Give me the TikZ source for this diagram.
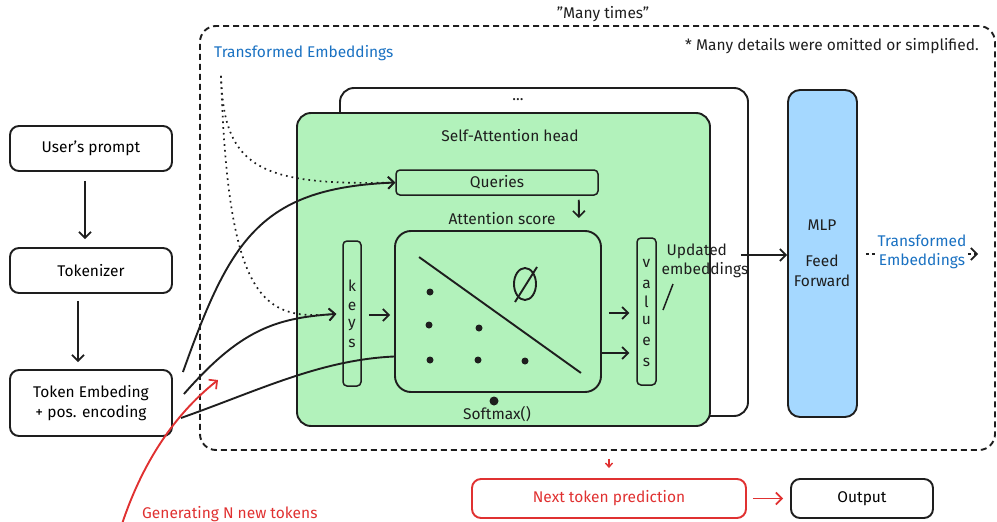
\documentclass[tikz,border=0pt]{standalone}
\usepackage{fontspec}
\setmainfont{Fira Sans}
\usetikzlibrary{arrows.meta,calc}
\definecolor{headgreen}{HTML}{B2F2BB}
\definecolor{mlpblue}{HTML}{A5D8FF}
\definecolor{inkblue}{HTML}{1971C2}
\definecolor{inkred}{HTML}{E03131}
\definecolor{ink}{HTML}{1E1E1E}
\tikzset{
  box/.style={draw=ink, line width=1.9pt, rounded corners=9pt, inner sep=0pt, align=center, font=\fontsize{15.5}{19.5}\selectfont},
  thin box/.style={draw=ink, line width=1.5pt, rounded corners=4pt, inner sep=0pt},
  lbl/.style={font=\fontsize{15.5}{19.5}\selectfont, inner sep=1pt, text=ink, align=center},
  arr/.style={draw=ink, line width=1.9pt, -{Straight Barb[length=6pt,width=12pt,line width=1.7pt]}},
  dotarr/.style={draw=ink, line width=1.7pt, dash pattern=on 1.7pt off 4pt, -{Straight Barb[length=6pt,width=12pt,line width=1.7pt]}},
  redarr/.style={draw=inkred, line width=1.9pt, -{Straight Barb[length=6pt,width=12pt,line width=1.7pt]}},
  dotmark/.style={circle, fill=ink, inner sep=0pt, minimum size=7pt},
}
\begin{document}
\begin{tikzpicture}[x=1pt,y=-1pt]
\useasboundingbox (0,0) rectangle (997,522);

% outer "many times" loop
\node[draw=ink, line width=1.9pt, dash pattern=on 6pt off 4pt, rounded corners=16pt, minimum width=795pt, minimum height=424pt] (loop) at (597.5,238) {};
\node[lbl] (many) at (603,14) {"Many times"};
\node[lbl, anchor=east] (note) at (980,46) {* Many details were omitted or simplified.};
\node[lbl, anchor=west, text=inkblue] (tein) at (213,53) {Transformed Embeddings};

% input pipeline
\node[box, minimum width=162pt, minimum height=45pt] (prompt) at (91,148.5) {User's prompt};
\node[box, minimum width=162pt, minimum height=45pt] (tok) at (91,270.5) {Tokenizer};
\node[box, minimum width=162pt, minimum height=66pt] (emb) at (91,403) {Token Embeding\\+ pos. encoding};
\draw[arr, shorten <=9pt, shorten >=8pt] (prompt.south -| 85,0) -- (tok.north -| 85,0);
\draw[arr, shorten <=7pt, shorten >=7pt] (tok.south -| 78,0) -- (emb.north -| 78,0);

% stacked heads
\node[box, fill=white, minimum width=408pt, minimum height=328pt, rounded corners=14pt] (back) at (544,252) {};
\node[lbl] (dots) at (518,100) {...};
\node[box, fill=headgreen, minimum width=413pt, minimum height=313pt, rounded corners=14pt] (head) at (503.5,269.5) {};
\node[lbl] (headlbl) at (510,136) {Self-Attention head};

% queries / keys / values
\node[thin box, minimum width=202pt, minimum height=25pt] (queries) at (497,182.5) {};
\node[lbl] at (queries) {Queries};
\node[lbl] (attlbl) at (502,219) {Attention score};
\node[box, minimum width=206pt, minimum height=161pt, rounded corners=16pt] (score) at (498,311.5) {};
\node[thin box, minimum width=18pt, minimum height=145pt] (keys) at (352,313.5) {};
\node[thin box, minimum width=19pt, minimum height=147pt] (values) at (646.5,311.5) {};
\foreach \ch/\yy in {k/286,e/306,y/325,s/343}
  \node[lbl] at (352,\yy) {\ch};
\foreach \ch/\yy in {v/263,a/284,l/302,u/321,e/341,s/362}
  \node[lbl] at (646.5,\yy) {\ch};

% attention score matrix
\draw[draw=ink, line width=1.9pt] ($(score.north west)+(25,27)$) -- ($(score.south east)+(-21,-20)$);
% empty-set mark in the masked half
\draw[draw=ink, line width=1.9pt] (525,284) ellipse [x radius=11, y radius=16];
\draw[draw=ink, line width=1.9pt] (515,302) -- (537,267);
\foreach \px/\py in {430/292,429/325,430/360,479/328,478/360,525/361}
  \node[dotmark] at (\px,\py) {};
\node[dotmark, minimum size=9pt] (smdot) at (494,401) {};
\node[lbl] (softmax) at (497,414) {Softmax()};

% arrows inside the head
\draw[arr, shorten <=4pt, shorten >=2pt] ($(queries.south east)+(-20,0)$) -- ($(score.north east)+(-23,-10)$);
\draw[arr, shorten <=7pt, shorten >=4pt] (keys.east |- 0,315) -- (score.west |- 0,315);
\draw[arr, shorten <=7pt, shorten >=7pt] (score.east |- 0,313) -- (values.west |- 0,313);
\draw[arr, shorten >=7pt] (score.east |- 0,353) -- (values.west |- 0,353);

% updated embeddings
\node[lbl, align=left] (upd) at (705,261) {\hspace*{5pt}Updated\\embeddings};
\draw[draw=ink, line width=1.5pt] (673,284) -- (663,310);

% MLP block
\node[box, fill=mlpblue, minimum width=69pt, minimum height=327pt, rounded corners=12pt] (mlp) at (822.5,253.5) {};
\node[lbl] (mlplbl) at (822,225) {MLP};
\node[lbl] (fflbl) at (822,271) {Feed\\Forward};
\draw[arr] ($(back.east |- 0,255)+(-8,0)$) -- (mlp.west |- 0,255);

% transformed embeddings out
\coordinate (teend) at (978,254);
\draw[arr, dashed, line width=1.5pt, shorten <=8pt] (mlp.east |- 0,254) -- (teend);
\node[lbl, text=inkblue, fill=white] (teout) at (922,252) {Transformed\\Embeddings};

% inputs into the head
\draw[arr] ($(emb.east)+(10,-31)$) .. controls (230,240) and (260,188) .. (queries.west);
\draw[arr, shorten >=6pt] ($(emb.east)+(11,-9)$) .. controls (240,330) and (275,318) .. (keys.west);
\draw[draw=ink, line width=1.9pt] ($(emb.east)+(8,15)$) .. controls (260,390) and (320,360) .. ($(score.west)+(0,45)$);
\draw[dotarr] ($(tein.south west)+(8,14)$) .. controls (224,165) and (255,186) .. (queries.west);
\draw[dotarr, shorten >=6pt] ($(tein.south west)+(8,14)$) .. controls (228,305) and (265,320) .. (keys.west);

% next-token loop
\node[box, draw=inkred, text=inkred, minimum width=274pt, minimum height=39pt] (next) at (609,498.5) {Next token prediction};
\node[box, minimum width=142pt, minimum height=39pt] (out) at (862,498.5) {Output};
\draw[draw=inkred, line width=1.4pt, -{Straight Barb[length=4pt,width=7pt,line width=1.4pt]}, shorten <=8pt, shorten >=10pt] (loop.south -| next.north) -- (next.north);
\draw[redarr, shorten <=6pt, shorten >=7pt] (next.east) -- (out.west);
\coordinate (redstart) at (122,524);
\draw[redarr] (redstart) .. controls (145,455) and (180,410) .. (218,380);
\node[lbl, anchor=west, text=inkred] (gen) at (141,514) {Generating N new tokens};
\end{tikzpicture}
\end{document}
